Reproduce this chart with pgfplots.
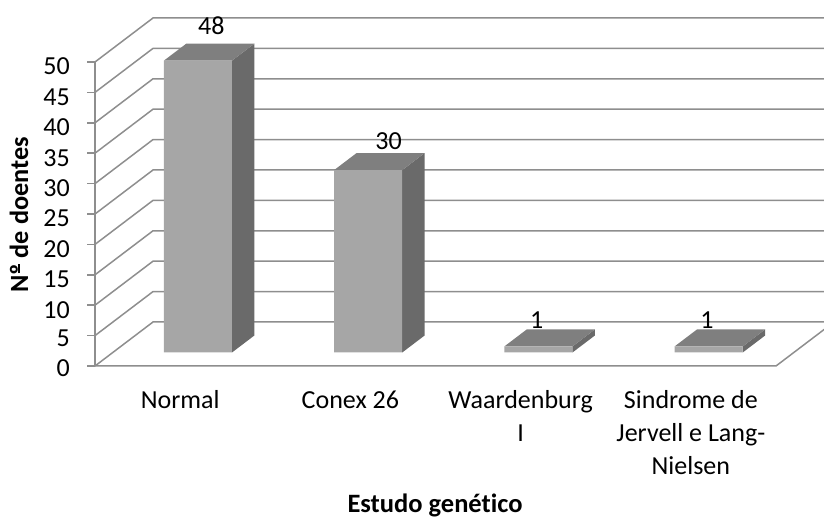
\documentclass[border=0pt]{standalone}
\usepackage{pgfplots}
\usepackage{fontspec}
\pgfplotsset{compat=1.18}
\setmainfont[Ligatures=NoCommon]{Carlito}
\definecolor{wallline}{HTML}{8E8E8E}
\definecolor{barfront}{HTML}{A6A6A6}
\definecolor{barside}{HTML}{6A6A6A}
\definecolor{bartop}{HTML}{7F7F7F}
\newcommand{\numberfont}{\fontsize{26}{33}\selectfont}
\newcommand{\catfont}{\fontsize{26}{33}\selectfont}

% One box-shaped bar: left edge, right edge, height
\newcommand{\drawbar}[3]{%
  \addplot3[fill=barside,draw=none] coordinates {(#2,0.307,0) (#2,0.693,0) (#2,0.693,#3) (#2,0.307,#3) (#2,0.307,0)};
  \addplot3[fill=bartop,draw=none] coordinates {(#1,0.307,#3) (#2,0.307,#3) (#2,0.693,#3) (#1,0.693,#3) (#1,0.307,#3)};
  \addplot3[fill=barfront,draw=none] coordinates {(#1,0.307,0) (#2,0.307,0) (#2,0.307,#3) (#1,0.307,#3) (#1,0.307,0)};
}

\begin{document}
\begin{tikzpicture}[x=1pt,y=1pt]
\useasboundingbox (0,0) rectangle (824,518);
\clip (0,0) rectangle (824,518);
\begin{axis}[
  at={(95pt,152pt)},
  anchor=south west,
  x={(170.25pt,0pt)},
  y={(58pt,44pt)},
  z={(0pt,6.08pt)},
  xmin=-0.5,xmax=3.5,
  ymin=0,ymax=1,
  zmin=0,zmax=50,
  clip=false,
  axis z line*=left,
  axis x line*=bottom,
  hide y axis,
  x axis line style={draw=none},
  z axis line style={draw=wallline,line width=1.5pt,-},
  ztick={0,5,...,50},
  xtick={0,1,2,3},
  xticklabels={Normal,Conex 26,{Waardenburg\\I},{Sindrome de\\Jervell e Lang-\\Nielsen}},
  x tick style={draw=none},
  z tick style={draw=none},
  major tick length=0pt,
  /pgf/number format/assume math mode=true,
  zticklabel style={font=\numberfont,text=black,inner sep=0pt,xshift=-25pt},
  xticklabel style={font=\catfont,align=center,text=black,anchor=north,yshift=-24.5pt,inner sep=0pt},
]
% Walls, floor and the short outward marks on the vertical axis
\pgfplotsinvokeforeach{0,5,...,50}{
  \addplot3[wallline,line width=1.5pt] coordinates {(-0.5,0,#1) (-0.5,1,#1) (3.5,1,#1)};
  \draw[wallline,line width=1.5pt] (axis cs:-0.5,0,#1) -- ++(-8pt,0pt);
}
\addplot3[wallline,line width=1.5pt] coordinates {(-0.5,0,0) (3.5,0,0) (3.5,1,0)};

% Bars
\drawbar{-0.2}{0.2}{48}
\drawbar{0.8}{1.2}{30}
\drawbar{1.8}{2.2}{1}
\drawbar{2.8}{3.2}{1}

% Value labels
\node[font=\numberfont,xshift=-9pt,yshift=18pt] at (axis cs:0,0.693,48) {48};
\node[font=\numberfont,xshift=-2pt,yshift=12pt] at (axis cs:1,0.693,30) {30};
\node[font=\numberfont,xshift=-24pt,yshift=9pt] at (axis cs:2,0.693,1) {1};
\node[font=\numberfont,xshift=-24pt,yshift=9pt] at (axis cs:3,0.693,1) {1};
\end{axis}
\node[font=\bfseries\fontsize{26.5}{30}\selectfont,anchor=base] at (435,5) {Estudo genético};
\node[font=\bfseries\fontsize{26.3}{30}\selectfont,rotate=90,anchor=base] at (28,303)
  {Nº\llap{\rule[8pt]{9pt}{1.6pt}} de doentes};
\end{tikzpicture}
\end{document}
